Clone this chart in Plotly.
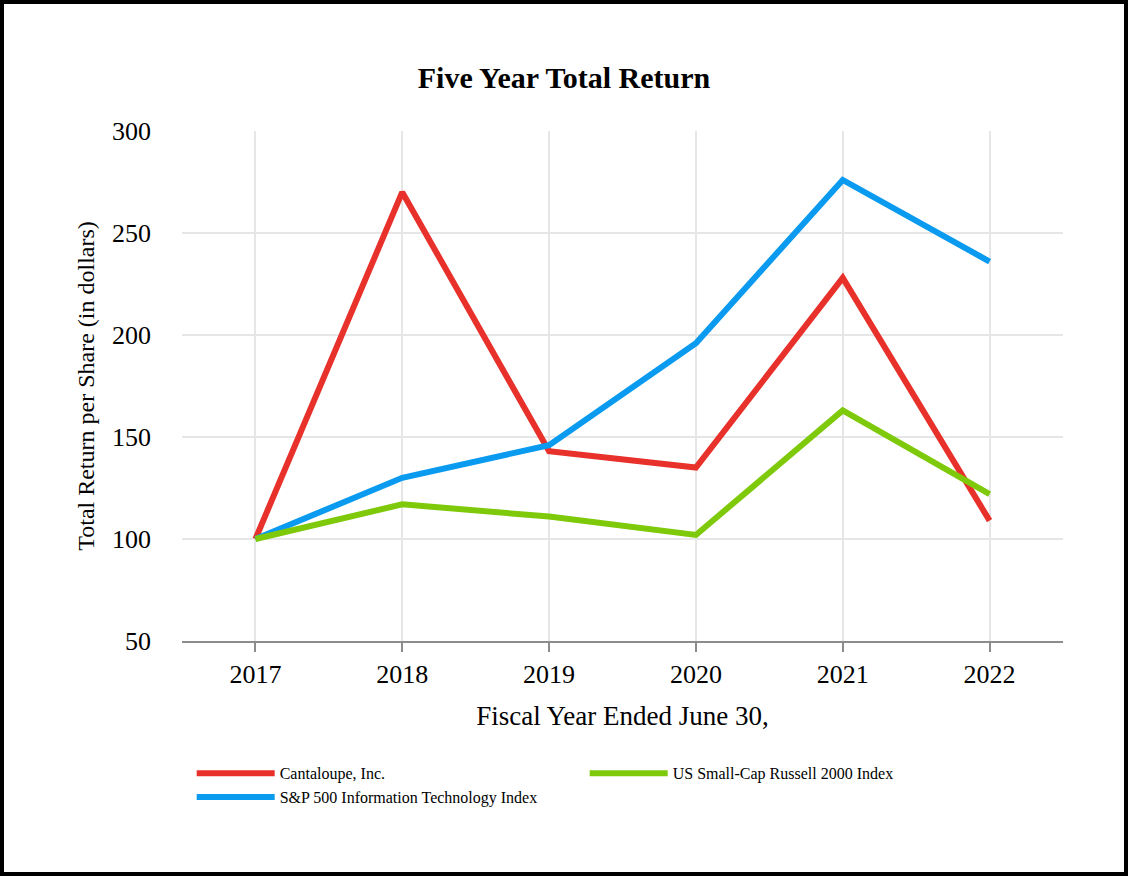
import plotly.graph_objects as go

years = ["2017", "2018", "2019", "2020", "2021", "2022"]
cantaloupe = [100, 270, 143, 135, 228, 109]
sp500_it = [100, 130, 146, 196, 276, 236]
russell2000 = [100, 117, 111, 102, 163, 122]

names = ["Cantaloupe, Inc.", "S&P 500 Information Technology Index", "US Small-Cap Russell 2000 Index"]
colors = ["#E8312B", "#0A9BF0", "#7DC90A"]
ranks = [1, 3, 2]
series = [cantaloupe, sp500_it, russell2000]

FONT = "Liberation Serif"

fig = go.Figure()
for name, vals, col, rk in zip(names, series, colors, ranks):
    fig.add_trace(go.Scatter(x=years, y=vals, name=name, mode="lines",
                             line=dict(color=col, width=6), legendrank=rk))

fig.update_layout(
    width=1128, height=876,
    paper_bgcolor="white", plot_bgcolor="white",
    margin=dict(l=182, r=65, t=131, b=235),
    font=dict(family=FONT, color="black"),
    title=dict(text="<b>Five Year Total Return</b>", x=0.5, xanchor="center",
               y=1 - 77/876, yanchor="middle", font=dict(size=30, family=FONT)),
    xaxis=dict(type="category", range=[-0.5, 5.5], showgrid=True, gridcolor="#e6e6e6", gridwidth=2,
               showline=True, linecolor="#8c8c8c", linewidth=2, ticks="outside", ticklen=9,
               tickcolor="#8c8c8c", tickwidth=2, tickfont=dict(size=26, family=FONT),
               title=dict(text="Fiscal Year Ended June 30,", font=dict(size=27, family=FONT), standoff=18),
               zeroline=False),
    yaxis=dict(range=[50, 300], tickvals=[50, 100, 150, 200, 250, 300], showgrid=True,
               gridcolor="#e6e6e6", gridwidth=2, showline=False, ticks="", ticklen=0,
               ticklabelstandoff=30,
               tickfont=dict(size=26, family=FONT), zeroline=False,
               title=dict(text="Total Return per Share (in dollars)", font=dict(size=24, family=FONT), standoff=10)),
    legend=dict(orientation="h", x=0.011, xanchor="left", y=-0.226, yanchor="top",
                entrywidth=300, entrywidthmode="pixels", itemwidth=78, tracegroupgap=0,
                font=dict(size=16, family=FONT), bgcolor="rgba(0,0,0,0)"),
    showlegend=True,
)

fig.add_shape(type="rect", xref="paper", yref="paper",
              x0=(2 - 182)/881, x1=(1126 - 182)/881,
              y0=(641 - 874)/510, y1=(641 - 2)/510,
              line=dict(color="black", width=4), fillcolor="rgba(0,0,0,0)")

fig.write_html("out.html", config={"displayModeBar": False},
               post_script="document.body.style.margin='0';")
